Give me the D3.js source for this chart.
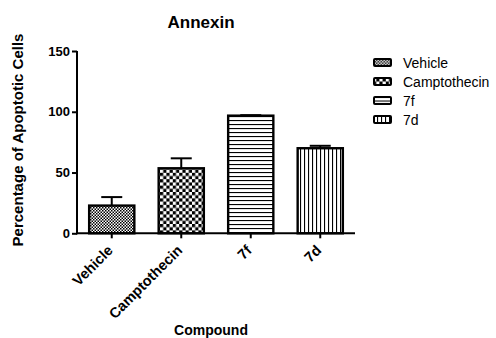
<!DOCTYPE html>
<html>
<head>
<meta charset="utf-8">
<script src="https://cdn.jsdelivr.net/npm/d3@7"></script>
<style>
  body { margin: 0; background: #fff; }
  svg { display: block; font-family: "Liberation Sans", Arial, sans-serif; }
</style>
</head>
<body>
<div id="viz"></div>
<script>
var compounds = ["Vehicle", "Camptothecin", "7f", "7d"];
var means = [22.8, 53.5, 96.8, 70];
var errors = [7, 8.2, 0.4, 2];
var yTicks = [0, 50, 100, 150];
var patterns = ["fineCheck", "coarseCheck", "hLines", "vLines"];

var width = 496, height = 338;
var margin = {left: 77, right: 141, top: 51, bottom: 105};

var svg = d3.select("#viz").append("svg")
  .attr("width", width)
  .attr("height", height);

// fill patterns
var defs = svg.append("defs");
function checker(id, s) {
  var p = defs.append("pattern").attr("id", id)
    .attr("patternUnits", "userSpaceOnUse")
    .attr("width", s * 2).attr("height", s * 2);
  p.append("rect").attr("width", s * 2).attr("height", s * 2).attr("fill", "#fff");
  p.append("rect").attr("width", s).attr("height", s).attr("fill", "#000");
  p.append("rect").attr("x", s).attr("y", s).attr("width", s).attr("height", s).attr("fill", "#000");
}
checker("fineCheck", 1.5);
checker("coarseCheck", 3.2);
var ph = defs.append("pattern").attr("id", "hLines")
  .attr("patternUnits", "userSpaceOnUse").attr("width", 4).attr("height", 4);
ph.append("rect").attr("width", 4).attr("height", 4).attr("fill", "#fff");
ph.append("rect").attr("y", 0).attr("width", 4).attr("height", 1.1).attr("fill", "#000");
var pv = defs.append("pattern").attr("id", "vLines")
  .attr("patternUnits", "userSpaceOnUse").attr("width", 4).attr("height", 4);
pv.append("rect").attr("width", 4).attr("height", 4).attr("fill", "#fff");
pv.append("rect").attr("x", 0).attr("width", 1.1).attr("height", 4).attr("fill", "#000");

var x = d3.scaleBand()
  .domain(compounds)
  .range([margin.left, width - margin.right])
  .paddingInner(0.35)
  .paddingOuter(0.175);

var y = d3.scaleLinear()
  .domain([0, 150])
  .range([height - margin.bottom + 0.3, margin.top]);

var g = svg.append("g");

// bars
g.selectAll("rect.bar")
  .data(compounds)
  .enter()
  .append("rect")
    .attr("class", "bar")
    .attr("x", function(d) { return x(d); })
    .attr("y", function(d, i) { return y(means[i]); })
    .attr("width", x.bandwidth())
    .attr("height", function(d, i) { return y(0) - y(means[i]); })
    .attr("fill", function(d, i) { return "url(#" + patterns[i] + ")"; })
    .attr("stroke", "#000")
    .attr("stroke-width", 2.4);

// error bars (upper only)
var eb = g.selectAll("g.err")
  .data(compounds)
  .enter()
  .append("g")
    .attr("class", "err")
    .attr("stroke", "#000")
    .attr("stroke-width", 2);
eb.append("line")
  .attr("x1", function(d) { return x(d) + x.bandwidth() / 2; })
  .attr("x2", function(d) { return x(d) + x.bandwidth() / 2; })
  .attr("y1", function(d, i) { return y(means[i]); })
  .attr("y2", function(d, i) { return y(means[i] + errors[i]); });
eb.append("line")
  .attr("x1", function(d) { return x(d) + x.bandwidth() / 2 - 10.5; })
  .attr("x2", function(d) { return x(d) + x.bandwidth() / 2 + 10.5; })
  .attr("y1", function(d, i) { return y(means[i] + errors[i]); })
  .attr("y2", function(d, i) { return y(means[i] + errors[i]); });

// axes
var yAxis = g.append("g")
  .attr("transform", "translate(" + margin.left + ",0)")
  .call(d3.axisLeft(y).tickValues(yTicks).tickSize(5).tickPadding(2).tickSizeOuter(0));
var xAxis = g.append("g")
  .attr("transform", "translate(0," + y(0) + ")")
  .call(d3.axisBottom(x).tickSize(5).tickSizeOuter(0));

[yAxis, xAxis].forEach(function(a) {
  a.select(".domain").attr("stroke", "#000").attr("stroke-width", 2);
  a.selectAll(".tick line").attr("stroke", "#000").attr("stroke-width", 2);
  a.selectAll("text")
    .attr("fill", "#000")
    .style("font-family", "'Liberation Sans', Arial, sans-serif")
    .style("font-weight", "bold");
});
yAxis.selectAll("text").style("font-size", "13px");
xAxis.selectAll("text").style("font-size", "14.5px");
yAxis.select(".domain").attr("d", "M0," + (y(0) + 1) + "V" + y(150));
xAxis.select(".domain").attr("d", "M" + (margin.left - 1) + ",0H" + (width - margin.right));

xAxis.selectAll(".tick text")
  .attr("text-anchor", "end")
  .attr("dy", null)
  .attr("y", 0)
  .attr("transform", "translate(2,18) rotate(-45)");

// titles
svg.append("text")
  .attr("x", 201)
  .attr("y", 28)
  .attr("text-anchor", "middle")
  .style("font-size", "17px")
  .style("font-weight", "bold")
  .text("Annexin");

svg.append("text")
  .attr("transform", "translate(23,140) rotate(-90)")
  .attr("text-anchor", "middle")
  .style("font-size", "15px")
  .style("font-weight", "bold")
  .text("Percentage of Apoptotic Cells");

svg.append("text")
  .attr("x", 211)
  .attr("y", 335)
  .attr("text-anchor", "middle")
  .style("font-size", "14px")
  .style("font-weight", "bold")
  .text("Compound");

// legend
var legend = svg.append("g")
  .attr("transform", "translate(373,62.5)");
var item = legend.selectAll("g")
  .data(compounds)
  .enter()
  .append("g")
    .attr("transform", function(d, i) { return "translate(0," + (i * 19) + ")"; });
item.append("rect")
  .attr("x", 1)
  .attr("y", -3.5)
  .attr("width", 17)
  .attr("height", 7)
  .attr("rx", 1)
  .attr("fill", function(d, i) { return "url(#" + patterns[i] + ")"; })
  .attr("stroke", "#000")
  .attr("stroke-width", 2);
item.append("text")
  .attr("x", 30)
  .attr("y", 5)
  .style("font-size", "14px")
  .text(function(d) { return d; });
</script>
</body>
</html>
